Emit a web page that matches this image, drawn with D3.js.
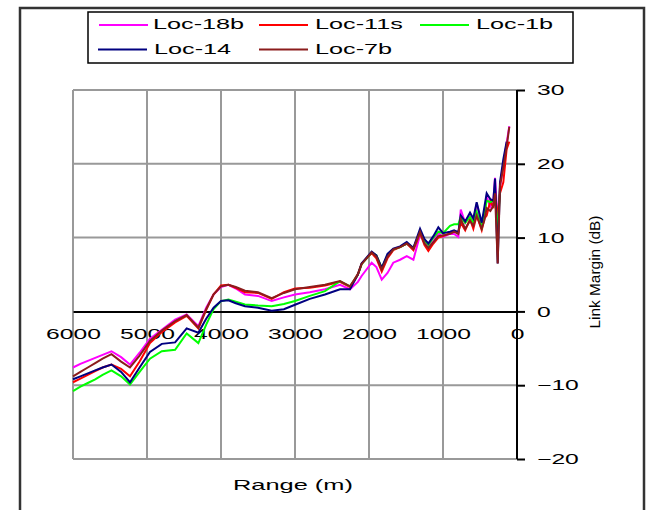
<!DOCTYPE html>
<html>
<head>
<meta charset="utf-8">
<script src="https://cdn.jsdelivr.net/npm/d3@7"></script>
<style>
  body { margin: 0; background: #fff; }
  text { font-family: "Liberation Sans", Arial, sans-serif; fill: #000; }
</style>
</head>
<body>
<svg id="chart" width="646" height="510"></svg>
<script>
// range in metres, shared by every series
const rangeM = [6000, 5900, 5800, 5700, 5600, 5480, 5350, 5230, 5100, 4960, 4800, 4620, 4464, 4306, 4200, 4100,
    4000, 3900, 3800, 3676, 3500, 3315, 3150, 3000, 2800, 2595, 2392, 2257, 2150, 2100, 1964, 1900, 1828, 1750,
    1672, 1580, 1490, 1400, 1310, 1250, 1198, 1130, 1063, 1000, 905, 850, 793, 760, 700, 635, 590, 545, 477, 440,
    410, 360, 320, 297, 261, 230, 185, 140, 104];

const loc18b = [-7.6, -7.1, -6.7, -6.3, -5.9, -5.4, -6.2, -7.2, -5.6, -3.7, -2.5, -1.1, -0.4, -2.0, 0.5, 2.3,
    3.3, 3.6, 3.1, 2.3, 2.1, 1.4, 1.9, 2.3, 2.6, 3.0, 3.6, 3.0, 4.0, 4.8, 6.6, 6.0, 4.3, 5.2,
    6.6, 7.0, 7.5, 7.0, 10.4, 9.4, 8.8, 9.5, 10.6, 10.1, 10.5, 10.5, 10.1, 13.8, 12.0, 13.2, 12.3, 14.6, 11.8, 13.5,
    15.5, 14.2, 15.0, 18.1, 12.0, 16.8, 20.0, 22.8, 25.1];

const loc11s = [-9.6, -9.1, -8.6, -8.1, -7.6, -7.2, -7.8, -8.8, -6.8, -4.3, -2.8, -1.5, -0.6, -2.3, 0.2, 2.3,
    3.5, 3.6, 3.2, 2.6, 2.5, 1.7, 2.6, 3.1, 3.2, 3.5, 4.0, 3.3, 5.1, 6.5, 7.9, 7.2, 5.4, 7.2,
    8.3, 8.7, 9.2, 8.3, 10.6, 9.0, 8.2, 9.2, 10.0, 10.2, 10.6, 10.8, 10.8, 12.0, 11.0, 12.5, 11.2, 13.0, 11.0, 12.6,
    13.0, 15.0, 14.0, 16.5, 12.5, 16.0, 17.5, 22.0, 23.0];

const loc1b = [-10.8, -10.2, -9.7, -9.2, -8.6, -8.0, -8.8, -9.9, -8.2, -6.4, -5.4, -5.2, -3.0, -4.3, -1.8, 0.3,
    1.4, 1.6, 1.3, 0.95, 0.8, 0.7, 1.0, 1.4, 2.1, 2.75, 4.1, 3.4, 5.0, 6.4, 8.0, 7.6, 5.9, 7.6,
    8.4, 8.7, 9.2, 8.6, 10.8, 9.6, 9.0, 10.0, 10.8, 10.6, 11.6, 11.8, 11.8, 12.8, 12.0, 12.8, 12.0, 13.5, 11.4, 13.2,
    15.0, 14.8, 15.0, 15.5, 10.8, 16.5, null, null, null];

const loc14 = [-9.2, -8.8, -8.4, -8.0, -7.6, -7.2, -8.2, -9.6, -7.6, -5.5, -4.4, -4.2, -2.3, -2.9, -1.0, 0.5,
    1.4, 1.5, 1.1, 0.7, 0.5, 0.1, 0.3, 0.9, 1.7, 2.3, 3.0, 3.0, 5.0, 6.5, 8.1, 7.6, 5.9, 7.8,
    8.5, 8.8, 9.4, 8.6, 11.2, 9.8, 9.2, 10.2, 11.4, 10.6, 10.8, 11.0, 10.7, 13.0, 12.2, 13.4, 12.6, 14.8, 12.0, 14.2,
    16.0, 15.2, 15.0, 18.0, 6.5, 17.5, 20.6, 23.0, null];

const loc7b = [-8.8, -8.2, -7.6, -7.0, -6.4, -5.8, -6.8, -7.6, -6.0, -4.0, -2.6, -1.3, -0.5, -2.2, 0.3, 2.3,
    3.4, 3.6, 3.3, 2.8, 2.6, 1.8, 2.5, 3.0, 3.3, 3.6, 4.1, 3.4, 5.0, 6.4, 8.0, 7.4, 5.7, 7.4,
    8.4, 8.7, 9.2, 8.5, 10.8, 9.2, 8.6, 9.4, 10.2, 10.3, 10.5, 10.8, 10.5, 12.5, 11.2, 12.3, 11.6, 13.0, 11.2, 12.4,
    14.0, 13.6, 14.3, 16.0, 6.5, 17.0, 19.5, 22.3, 25.0];

const seriesNames = ["Loc-18b", "Loc-11s", "Loc-1b", "Loc-14", "Loc-7b"];
const seriesValues = [loc18b, loc11s, loc1b, loc14, loc7b];
const seriesColors = ["#ff00ff", "#ff0000", "#00ff00", "#000080", "#8b1c1c"];

const xTicks = [6000, 5000, 4000, 3000, 2000, 1000, 0];
const yTicks = [-20, -10, 0, 10, 20, 30];


const svg = d3.select("#chart");

const x = d3.scaleLinear().domain([6000, 0]).range([73, 517]);
const y = d3.scaleLinear().domain([-20, 30]).range([459, 90]);

// stretch text horizontally like the original bitmap font
function stretch(sel, k) {
    sel.each(function() {
        const len = this.getComputedTextLength();
        d3.select(this)
            .attr("textLength", len * k)
            .attr("lengthAdjust", "spacingAndGlyphs");
    });
}

// outer frame
svg.append("path")
    .attr("d", "M20,510 V8 H644 V510")
    .attr("fill", "none")
    .attr("stroke", "#333")
    .attr("stroke-width", 2.5);

// grid
svg.append("g")
    .selectAll("line")
    .data(xTicks.filter(d => d !== 0))
    .enter()
    .append("line")
    .attr("x1", d => x(d)).attr("x2", d => x(d))
    .attr("y1", y(30)).attr("y2", y(-20))
    .attr("stroke", "#999").attr("stroke-width", 2);

svg.append("g")
    .selectAll("line")
    .data(yTicks.filter(d => d !== 0))
    .enter()
    .append("line")
    .attr("x1", x(6000)).attr("x2", x(0))
    .attr("y1", d => y(d)).attr("y2", d => y(d))
    .attr("stroke", "#999").attr("stroke-width", 2);

// x axis along 0 dB
const xAxis = svg.append("g")
    .attr("transform", `translate(0,${y(0)})`)
    .call(d3.axisBottom(x).tickValues(xTicks).tickSize(0).tickPadding(17).tickFormat(d3.format("d")));
xAxis.select(".domain").attr("stroke", "#000").attr("stroke-width", 2);
xAxis.selectAll("text")
    .style("font-size", "14.5px")
    .call(stretch, 1.7);

// y axis on the right
const yAxis = svg.append("g")
    .attr("transform", `translate(${x(0)},0)`)
    .call(d3.axisRight(y).tickValues(yTicks).tickSize(8).tickPadding(12));
yAxis.select(".domain").attr("stroke", "#000").attr("stroke-width", 2)
    .attr("d", `M0,${y(30)}V${y(-20)}`);
yAxis.selectAll(".tick line").attr("stroke", "#000").attr("stroke-width", 2);
yAxis.selectAll("text")
    .style("font-size", "14.5px")
    .call(stretch, 1.7);

// series lines
const line = d3.line()
    .defined(d => d.v !== null)
    .x(d => x(d.r))
    .y(d => y(d.v));

svg.append("g")
    .selectAll("path")
    .data(seriesValues)
    .enter()
    .append("path")
    .attr("fill", "none")
    .attr("stroke", (d, i) => seriesColors[i])
    .attr("stroke-width", 2)
    .attr("stroke-linejoin", "miter")
    .attr("d", vals => line(vals.map((v, i) => ({r: rangeM[i], v: v}))));

// axis titles
svg.append("text")
    .attr("x", 233)
    .attr("y", 490)
    .style("font-size", "14.5px")
    .text("Range (m)")
    .call(stretch, 1.75);

svg.append("text")
    .attr("transform", "translate(600,272) rotate(-90)")
    .attr("text-anchor", "middle")
    .style("font-size", "14px")
    .text("Link Margin (dB)")
    .call(stretch, 1.1);

// legend
svg.append("rect")
    .attr("x", 88).attr("y", 12)
    .attr("width", 485).attr("height", 51)
    .attr("fill", "#fff")
    .attr("stroke", "#000")
    .attr("stroke-width", 1.5);

const legendPos = [
    {lx: 99, tx: 153, ly: 25, ty: 28.5},
    {lx: 259, tx: 315, ly: 25, ty: 28.5},
    {lx: 420, tx: 476, ly: 25, ty: 28.5},
    {lx: 98, tx: 154, ly: 49.5, ty: 54},
    {lx: 259, tx: 315, ly: 49.5, ty: 54}
];

const legend = svg.append("g")
    .selectAll("g")
    .data(seriesNames)
    .enter()
    .append("g");

legend.append("line")
    .attr("x1", (d, i) => legendPos[i].lx)
    .attr("x2", (d, i) => legendPos[i].lx + 49)
    .attr("y1", (d, i) => legendPos[i].ly)
    .attr("y2", (d, i) => legendPos[i].ly)
    .attr("stroke", (d, i) => seriesColors[i])
    .attr("stroke-width", 2);

legend.append("text")
    .attr("x", (d, i) => legendPos[i].tx)
    .attr("y", (d, i) => legendPos[i].ty)
    .style("font-size", "14px")
    .text(d => d)
    .call(stretch, 1.8);
</script>
</body>
</html>
